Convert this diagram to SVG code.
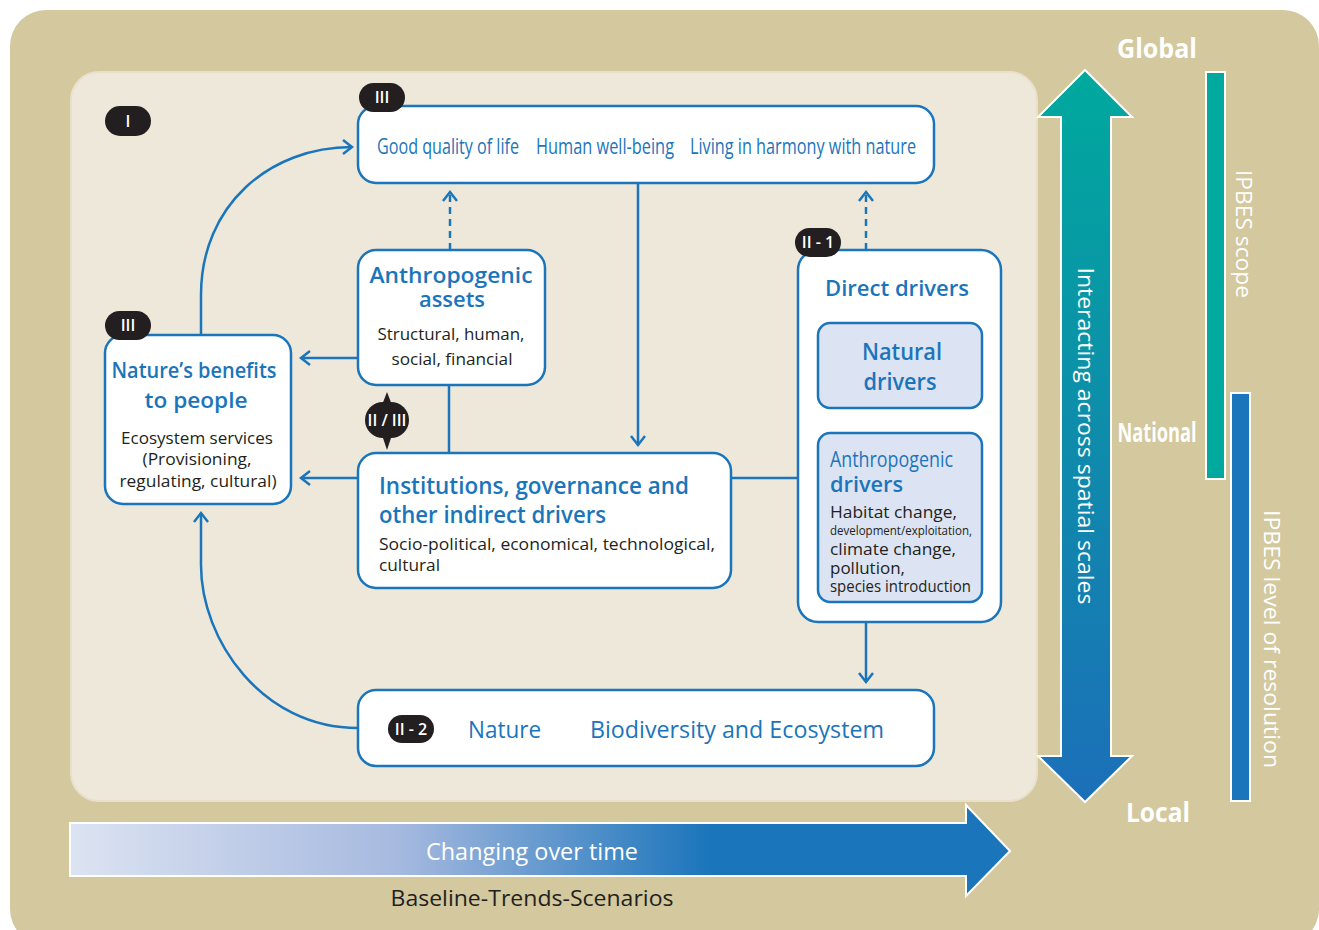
<svg xmlns="http://www.w3.org/2000/svg" width="1319" height="930" viewBox="0 0 1319 930">
<defs>
<style>
.box{fill:#ffffff;stroke:#1b75bb;stroke-width:2.5}
.sub{fill:#dce3f2;stroke:#1b75bb;stroke-width:2.5}
.con{fill:none;stroke:#1b75bb;stroke-width:2.5}
.dash{fill:none;stroke:#1b75bb;stroke-width:2.5;stroke-dasharray:7 5}
.t{font-family:"Open Sans","Noto Sans","Liberation Sans",sans-serif}
.h{font-weight:600}
.b{fill:#1b75bb}
.k{fill:#231f20}
.w{fill:#ffffff}
.badge{fill:#231f20}
.bt{font-family:"Open Sans","Liberation Sans",sans-serif;fill:#ffffff;font-size:16px;font-weight:600;text-anchor:middle}
</style>
<marker id="ah" markerWidth="16" markerHeight="16" refX="11" refY="8" orient="auto" markerUnits="userSpaceOnUse">
<path d="M2,1 L11,8 L2,15" fill="none" stroke="#1b75bb" stroke-width="2.5"/>
</marker>
<linearGradient id="vg" x1="0" y1="0" x2="0" y2="1">
<stop offset="0" stop-color="#00a99d"/>
<stop offset="1" stop-color="#1c6fb9"/>
</linearGradient>
<linearGradient id="hg" x1="0" y1="0" x2="1" y2="0">
<stop offset="0" stop-color="#dce3f2"/>
<stop offset="0.35" stop-color="#a6b9df"/>
<stop offset="0.68" stop-color="#1b75bb"/>
<stop offset="1" stop-color="#1b75bb"/>
</linearGradient>
</defs>

<rect x="10" y="10" width="1309" height="935" rx="36" fill="#d3c89e"/>
<rect x="71" y="72" width="966" height="729" rx="28" fill="#eee8da" stroke="#e8e0cb" stroke-width="2"/>

<g id="connectors">
<path class="con" d="M201,335 L201,295 C201,205 270,147 352,147" marker-end="url(#ah)"/>
<path class="dash" d="M450,250 L450,192" marker-end="url(#ah)"/>
<path class="dash" d="M866,250 L866,192" marker-end="url(#ah)"/>
<path class="con" d="M638,183 L638,445" marker-end="url(#ah)"/>
<path class="con" d="M358,358 L301,358" marker-end="url(#ah)"/>
<path class="con" d="M358,478 L301,478" marker-end="url(#ah)"/>
<path class="con" d="M449,385 L449,453"/>
<path class="con" d="M731,478 L798,478"/>
<path class="con" d="M866,622 L866,682" marker-end="url(#ah)"/>
<path class="con" d="M358,728 C262,728 201,640 201,565 L201,513" marker-end="url(#ah)"/>
</g>

<g id="badge-I">
<rect class="badge" x="105" y="106" width="46" height="30" rx="15"/>
<text class="bt" x="128" y="127">I</text>
</g>

<g id="node-quality">
<rect class="box" x="358" y="106" width="576" height="77" rx="18"/>
<rect class="badge" x="359" y="83" width="46" height="29" rx="14.5"/>
<text class="bt" x="382" y="103">III</text>
<text class="t b" font-size="22" x="377" y="154" textLength="142" lengthAdjust="spacingAndGlyphs">Good quality of life</text>
<text class="t b" font-size="22" x="536" y="154" textLength="138" lengthAdjust="spacingAndGlyphs">Human well-being</text>
<text class="t b" font-size="22" x="690" y="154" textLength="226" lengthAdjust="spacingAndGlyphs">Living in harmony with nature</text>
</g>

<g id="node-assets">
<rect class="box" x="358" y="250" width="187" height="135" rx="18"/>
<text class="t b h" font-size="22" text-anchor="middle" x="451" y="283" textLength="163" lengthAdjust="spacingAndGlyphs">Anthropogenic</text>
<text class="t b h" font-size="22" text-anchor="middle" x="452" y="307" textLength="66" lengthAdjust="spacingAndGlyphs">assets</text>
<text class="t k" font-size="16.5" text-anchor="middle" x="451" y="340" textLength="147" lengthAdjust="spacingAndGlyphs">Structural, human,</text>
<text class="t k" font-size="16.5" text-anchor="middle" x="452" y="365" textLength="121" lengthAdjust="spacingAndGlyphs">social, financial</text>
</g>

<g id="node-benefits">
<rect class="box" x="105" y="335" width="186" height="169" rx="18"/>
<rect class="badge" x="105" y="311" width="46" height="29" rx="14.5"/>
<text class="bt" x="128" y="331">III</text>
<text class="t b h" font-size="22" text-anchor="middle" x="194" y="378" textLength="165" lengthAdjust="spacingAndGlyphs">Nature’s benefits</text>
<text class="t b h" font-size="22" text-anchor="middle" x="196" y="408" textLength="103" lengthAdjust="spacingAndGlyphs">to people</text>
<text class="t k" font-size="16.5" text-anchor="middle" x="197" y="444" textLength="152" lengthAdjust="spacingAndGlyphs">Ecosystem services</text>
<text class="t k" font-size="16.5" text-anchor="middle" x="197" y="465" textLength="109" lengthAdjust="spacingAndGlyphs">(Provisioning,</text>
<text class="t k" font-size="16.5" text-anchor="middle" x="198" y="487" textLength="157" lengthAdjust="spacingAndGlyphs">regulating, cultural)</text>
</g>

<g id="badge-II-III">
<path class="badge" d="M387,392 L392,405 L382,405 Z M387,450 L392,435 L382,435 Z"/>
<rect class="badge" x="365" y="402" width="44" height="36" rx="18"/>
<text class="bt" x="387" y="426" font-size="14">II / III</text>
</g>

<g id="node-institutions">
<rect class="box" x="358" y="453" width="373" height="135" rx="18"/>
<text class="t b h" font-size="23" x="379" y="494" textLength="310" lengthAdjust="spacingAndGlyphs">Institutions, governance and</text>
<text class="t b h" font-size="23" x="379" y="523" textLength="227" lengthAdjust="spacingAndGlyphs">other indirect drivers</text>
<text class="t k" font-size="16.5" x="379" y="550" textLength="336" lengthAdjust="spacingAndGlyphs">Socio-political, economical, technological,</text>
<text class="t k" font-size="16.5" x="379" y="571" textLength="61" lengthAdjust="spacingAndGlyphs">cultural</text>
</g>

<g id="node-direct">
<rect class="box" x="798" y="250" width="203" height="372" rx="20"/>
<rect class="badge" x="795" y="228" width="46" height="29" rx="14.5"/>
<text class="bt" x="818" y="248">II - 1</text>
<text class="t b h" font-size="22" x="825" y="296" textLength="144" lengthAdjust="spacingAndGlyphs">Direct drivers</text>
<g id="node-natural">
<rect class="sub" x="818" y="323" width="164" height="85" rx="12"/>
<text class="t b h" font-size="23" text-anchor="middle" x="902" y="360" textLength="80" lengthAdjust="spacingAndGlyphs">Natural</text>
<text class="t b h" font-size="23" text-anchor="middle" x="900" y="390" textLength="73" lengthAdjust="spacingAndGlyphs">drivers</text>
</g>
<g id="node-anthro-drivers">
<rect class="sub" x="818" y="433" width="164" height="169" rx="12"/>
<text class="t b" font-size="21" x="830" y="467" textLength="123" lengthAdjust="spacingAndGlyphs">Anthropogenic</text>
<text class="t b h" font-size="22" x="830" y="492" textLength="73" lengthAdjust="spacingAndGlyphs">drivers</text>
<text class="t k" font-size="16.5" x="830" y="518" textLength="127" lengthAdjust="spacingAndGlyphs">Habitat change,</text>
<text class="t k" font-size="12.5" x="830" y="535" textLength="142" lengthAdjust="spacingAndGlyphs">development/exploitation,</text>
<text class="t k" font-size="16.5" x="830" y="555" textLength="126" lengthAdjust="spacingAndGlyphs">climate change,</text>
<text class="t k" font-size="16.5" x="830" y="574" textLength="75" lengthAdjust="spacingAndGlyphs">pollution,</text>
<text class="t k" font-size="15.5" x="830" y="592" textLength="141" lengthAdjust="spacingAndGlyphs">species introduction</text>
</g>
</g>

<g id="node-nature">
<rect class="box" x="358" y="690" width="576" height="76" rx="18"/>
<rect class="badge" x="388" y="715" width="46" height="28" rx="14"/>
<text class="bt" x="411" y="735">II - 2</text>
<text class="t b" font-size="24" x="468" y="738" textLength="73" lengthAdjust="spacingAndGlyphs">Nature</text>
<text class="t b" font-size="24" x="590" y="738" textLength="294" lengthAdjust="spacingAndGlyphs">Biodiversity and Ecosystem</text>
</g>

<g id="scale-arrow">
<path d="M1085,70 L1132,117 L1111,117 L1111,756 L1132,756 L1085,802 L1038,756 L1061,756 L1061,117 L1038,117 Z" fill="url(#vg)" stroke="#ffffff" stroke-width="2"/>
<text class="t w" font-size="22" text-anchor="middle" transform="translate(1078,436) rotate(90)" textLength="337" lengthAdjust="spacingAndGlyphs">Interacting across spatial scales</text>
</g>

<g id="scale-labels">
<text class="t w" font-size="26" font-weight="bold" text-anchor="middle" x="1157" y="58" textLength="80" lengthAdjust="spacingAndGlyphs">Global</text>
<text class="t w" font-size="26" font-weight="bold" text-anchor="middle" x="1157" y="442" textLength="79" lengthAdjust="spacingAndGlyphs">National</text>
<text class="t w" font-size="26" font-weight="bold" text-anchor="middle" x="1158" y="822" textLength="64" lengthAdjust="spacingAndGlyphs">Local</text>
</g>

<g id="ipbes-scope">
<rect x="1206" y="72" width="19" height="407" fill="#00a99d" stroke="#ffffff" stroke-width="2"/>
<text class="t w" font-size="22" text-anchor="middle" transform="translate(1236,234) rotate(90)" textLength="128" lengthAdjust="spacingAndGlyphs">IPBES scope</text>
</g>

<g id="ipbes-resolution">
<rect x="1231" y="393" width="19" height="408" fill="#1b75bb" stroke="#ffffff" stroke-width="2"/>
<text class="t w" font-size="22" text-anchor="middle" transform="translate(1264,639) rotate(90)" textLength="258" lengthAdjust="spacingAndGlyphs">IPBES level of resolution</text>
</g>

<g id="time-arrow">
<path d="M70,823 L966,823 L966,805 L1010,851 L966,896 L966,876 L70,876 Z" fill="url(#hg)" stroke="#ffffff" stroke-width="2"/>
<text class="t w" font-size="24" text-anchor="middle" x="532" y="860" textLength="212" lengthAdjust="spacingAndGlyphs">Changing over time</text>
<text class="t k" font-size="22" text-anchor="middle" x="532" y="906" textLength="283" lengthAdjust="spacingAndGlyphs">Baseline-Trends-Scenarios</text>
</g>
</svg>
